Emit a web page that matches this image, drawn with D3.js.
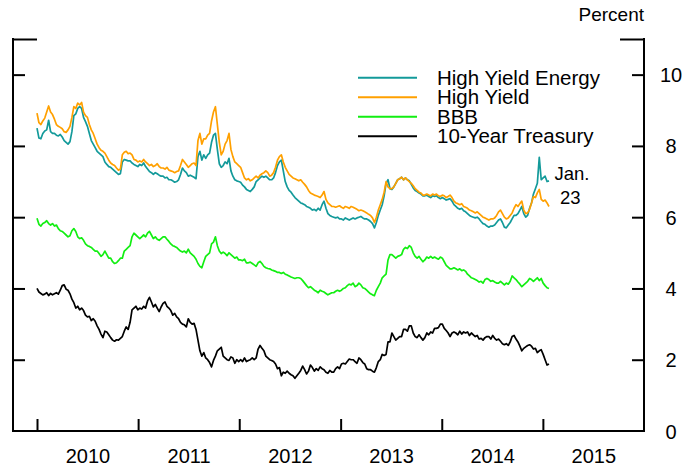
<!DOCTYPE html>
<html>
<head>
<meta charset="utf-8">
<script src="https://cdn.jsdelivr.net/npm/d3@7"></script>
<style>
  body { margin: 0; background: #fff; }
  text { font-family: "Liberation Sans", Arial, Helvetica, sans-serif; fill: #000; }
</style>
</head>
<body>
<svg id="chart" width="698" height="466"></svg>
<script>
// Weekly (Friday) observations, 1 Jan 2010 through 23 Jan 2015, percent.
const firstObservation = "2010-01-01";
const lastLabel = ["Jan.", "23"];

const highYieldEnergy = [
  // 2010
  8.50,8.22,8.20,8.35,8.42, 8.45,8.72,8.40,8.35, 8.35,8.30,8.28,8.32, 8.25,8.15,8.10,8.05,8.12,
  8.40,8.85,8.90,9.05, 9.10,9.05,8.80,8.68, 8.55,8.35,8.15,8.05,7.95, 7.85,7.80,7.75,7.70,
  7.55,7.48,7.42,7.40, 7.35,7.30,7.25,7.20,7.22, 7.55,7.62,7.60,7.58, 7.58,7.52,7.48,7.45,7.42,
  // 2011
  7.48,7.45,7.52,7.42, 7.35,7.28,7.25,7.20, 7.25,7.22,7.18,7.15, 7.15,7.10,7.12,7.05,7.05,
  7.02,6.98,7.00,7.05, 7.20,7.38,7.30,7.25, 7.15,7.18,7.15,7.12,7.08, 7.70,7.85,7.60,7.75,
  7.65,7.75,7.80,8.10,8.30, 8.35,7.90,7.50,7.40, 7.45,7.55,7.50,7.65, 7.30,7.15,7.05,7.02,7.00,
  // 2012
  6.98,6.90,6.85,6.78, 6.75,6.72,6.78,6.85, 7.00,7.05,7.10,7.15,7.12, 7.15,7.10,7.05,7.05,
  7.10,7.25,7.45,7.55, 7.60,7.30,7.00,6.85,6.75, 6.70,6.62,6.55,6.50, 6.45,6.40,6.38,6.35,6.30,
  6.28,6.25,6.20,6.22, 6.18,6.25,6.20,6.35, 6.45,6.25,6.10,6.05,6.02, 6.00,5.98,6.00,5.95,
  // 2013
  5.95,5.92,5.98,5.95, 5.92,5.95,5.98,5.95, 5.98,6.00,6.02,5.98,5.95, 5.95,5.92,5.88,5.82,
  5.70,5.85,6.05,6.20,6.35, 6.60,6.95,7.05,6.80, 6.78,6.85,6.95,7.05, 7.08,7.12,7.05,7.10,7.05,
  7.02,6.92,6.82,6.75, 6.72,6.68,6.65,6.60, 6.60,6.62,6.58,6.55,6.60, 6.58,6.60,6.55,6.52,
  // 2014
  6.55,6.52,6.48,6.50,6.52, 6.45,6.35,6.30,6.25, 6.22,6.25,6.18,6.15, 6.10,6.05,6.02,6.00,
  5.98,6.00,5.95,5.88,5.82, 5.80,5.75,5.72,5.75, 5.75,5.78,5.85,5.92, 5.95,5.85,5.72,5.70,5.78,
  5.85,5.95,6.05,6.05, 6.10,6.20,6.30,6.10,6.00, 6.05,6.25,6.40,6.65, 6.80,6.95,7.68,7.05,
  // 2015
  7.10,7.15,7.00,7.02
];

const highYield = [
  // 2010
  8.92,8.65,8.60,8.70,8.78, 8.95,9.12,8.95,8.88, 8.75,8.60,8.55,8.52, 8.48,8.40,8.38,8.45,8.55,
  8.80,9.10,9.05,9.20, 9.15,9.22,8.95,8.85, 8.80,8.60,8.45,8.35,8.20, 8.05,7.95,7.88,7.85,
  7.80,7.70,7.60,7.52, 7.48,7.45,7.38,7.32,7.35, 7.75,7.82,7.85,7.78, 7.80,7.75,7.62,7.60,7.55,
  // 2011
  7.58,7.55,7.62,7.55, 7.50,7.45,7.48,7.42, 7.45,7.50,7.42,7.38, 7.38,7.35,7.40,7.32,7.30,
  7.28,7.25,7.28,7.30, 7.45,7.62,7.55,7.48, 7.40,7.45,7.50,7.52,7.45, 8.15,8.35,8.05,8.20,
  8.20,8.30,8.35,8.70,8.95, 9.10,8.60,8.10,7.75, 7.85,8.05,8.15,8.35, 7.90,7.70,7.55,7.50,7.45,
  // 2012
  7.40,7.25,7.10,7.05, 7.08,7.02,7.05,7.10, 7.15,7.10,7.18,7.22,7.25, 7.30,7.25,7.15,7.18,
  7.25,7.40,7.60,7.70, 7.75,7.55,7.40,7.30,7.20, 7.15,7.10,7.08,7.05, 7.02,7.05,6.98,6.92,6.85,
  6.75,6.68,6.65,6.62, 6.60,6.58,6.55,6.62, 6.72,6.50,6.40,6.35,6.30, 6.30,6.28,6.30,6.32,
  // 2013
  6.28,6.25,6.30,6.28, 6.25,6.30,6.28,6.25, 6.22,6.18,6.20,6.18,6.15, 6.12,6.08,6.05,5.98,
  5.85,6.00,6.20,6.35,6.50, 6.70,7.00,6.85,6.80, 6.80,6.85,6.95,7.05, 7.08,7.12,7.05,7.10,7.05,
  7.00,6.95,6.88,6.80, 6.75,6.70,6.68,6.62, 6.62,6.65,6.62,6.60,6.65, 6.62,6.65,6.60,6.58,
  // 2014
  6.62,6.60,6.55,6.58,6.62, 6.55,6.45,6.40,6.38, 6.35,6.38,6.30,6.28, 6.25,6.20,6.18,6.15,
  6.12,6.15,6.10,6.05,6.00, 5.98,5.95,5.92,5.95, 5.95,5.98,6.05,6.15, 6.20,6.10,6.00,5.95,5.98,
  6.05,6.12,6.25,6.35, 6.30,6.38,6.45,6.20,6.10, 6.12,6.22,6.40,6.58, 6.55,6.68,6.78,6.50,
  // 2015
  6.45,6.48,6.40,6.30
];

const bbb = [
  // 2010
  5.97,5.80,5.75,5.82,5.85, 5.90,5.82,5.78,5.82, 5.75,5.78,5.68,5.62, 5.60,5.55,5.50,5.45,5.48,
  5.62,5.68,5.60,5.45, 5.40,5.42,5.35,5.25, 5.20,5.18,5.15,5.10,5.05, 5.05,4.98,4.90,4.95,
  5.05,4.95,4.85,4.85, 4.75,4.70,4.72,4.78,4.85, 4.85,5.05,5.10,5.15, 5.20,5.45,5.55,5.50,5.45,
  // 2011
  5.40,5.45,5.50,5.45, 5.55,5.60,5.50,5.40, 5.45,5.38,5.35,5.40, 5.45,5.45,5.38,5.32,5.25,
  5.20,5.18,5.15,5.10, 5.05,5.02,5.05,5.00, 5.10,5.00,4.95,4.90,4.82, 4.70,4.62,4.58,4.75,
  4.90,4.95,5.00,5.25,5.30, 5.45,5.20,5.05,4.98, 5.02,4.98,4.92,5.00, 4.95,4.90,4.85,4.88,4.80,
  // 2012
  4.80,4.78,4.82,4.72, 4.72,4.74,4.70,4.66, 4.62,4.72,4.76,4.70,4.62, 4.58,4.56,4.55,4.52,
  4.50,4.48,4.45,4.45, 4.42,4.45,4.40,4.38,4.35, 4.32,4.30,4.28,4.30, 4.30,4.28,4.22,4.15,4.08,
  4.02,4.05,4.00,3.95, 3.92,3.88,3.95,3.92, 3.90,3.86,3.82,3.85,3.88, 3.88,3.92,3.95,3.92,
  // 2013
  3.95,4.00,4.02,4.08, 4.12,4.10,4.15,4.05, 4.08,4.15,4.10,4.02,4.00, 3.95,3.90,3.85,3.82,
  3.80,3.95,4.05,4.15,4.30, 4.35,4.40,4.80,4.95, 4.95,4.90,4.85,4.90, 4.92,4.95,5.10,5.15,5.12,
  5.20,5.15,5.00,4.90, 4.85,4.90,4.82,4.75, 4.80,4.88,4.85,4.90,4.85, 4.88,4.85,4.82,4.88,
  // 2014
  4.85,4.75,4.65,4.60,4.55, 4.55,4.58,4.55,4.52, 4.55,4.50,4.52,4.48, 4.40,4.35,4.30,4.28,
  4.25,4.22,4.18,4.20,4.15, 4.25,4.28,4.25,4.20, 4.22,4.18,4.15,4.15, 4.20,4.15,4.10,4.15,4.12,
  4.20,4.35,4.30,4.25, 4.18,4.12,4.05,4.10,4.15, 4.20,4.28,4.25,4.20, 4.25,4.30,4.22,4.28,
  // 2015
  4.15,4.08,4.02,4.00
];

const treasury10y = [
  // 2010
  4.00,3.90,3.86,3.82,3.84, 3.88,3.80,3.86,3.82, 3.85,3.88,3.84,3.95, 4.08,4.10,3.98,3.95,3.85,
  3.70,3.60,3.45,3.50, 3.40,3.45,3.38,3.25, 3.20,3.22,3.10,3.15,3.08, 2.95,2.85,2.72,2.62,
  2.80,2.78,2.70,2.62, 2.55,2.52,2.56,2.55,2.60, 2.65,2.80,2.92,2.85, 3.05,3.40,3.45,3.50,3.40,
  // 2011
  3.45,3.42,3.50,3.45, 3.65,3.75,3.62,3.48, 3.55,3.45,3.35,3.48, 3.58,3.62,3.50,3.45,3.38,
  3.25,3.30,3.20,3.15, 3.05,3.00,2.98,2.92, 3.15,3.05,3.00,3.02,2.85, 2.55,2.25,2.10,2.20,
  2.05,2.00,1.92,1.80,1.98, 2.10,2.25,2.30,2.35, 2.10,2.05,2.00,1.98, 2.08,2.05,1.90,2.00,1.95,
  // 2012
  2.00,1.95,2.05,1.95, 1.98,2.00,2.05,2.00, 2.05,2.30,2.40,2.32,2.25, 2.10,2.05,2.00,1.98,
  1.95,1.88,1.75,1.78, 1.55,1.65,1.62,1.68,1.62, 1.58,1.55,1.48,1.55, 1.62,1.70,1.82,1.72,1.60,
  1.68,1.85,1.78,1.68, 1.75,1.70,1.80,1.75, 1.72,1.65,1.62,1.70,1.65, 1.65,1.75,1.80,1.75,
  // 2013
  1.88,1.90,1.88,1.95, 2.02,2.00,2.00,1.95, 1.90,2.05,2.00,1.92,1.88, 1.75,1.72,1.72,1.68,
  1.65,1.78,1.95,2.00,2.15, 2.12,2.15,2.50,2.50, 2.75,2.65,2.55,2.60, 2.65,2.65,2.85,2.85,2.80,
  2.95,2.95,2.75,2.65, 2.62,2.70,2.62,2.55, 2.62,2.75,2.70,2.78,2.75, 2.88,2.88,2.90,3.00,
  // 2014
  3.00,2.88,2.82,2.75,2.65, 2.75,2.78,2.75,2.70, 2.80,2.72,2.78,2.75, 2.78,2.68,2.75,2.70,
  2.65,2.68,2.58,2.60,2.55, 2.62,2.65,2.65,2.58, 2.68,2.60,2.55,2.58, 2.52,2.45,2.42,2.45,2.40,
  2.50,2.65,2.68,2.58, 2.50,2.38,2.25,2.32,2.36, 2.40,2.42,2.38,2.30, 2.32,2.20,2.25,2.28,
  // 2015
  2.15,2.00,1.85,1.88
];

const seriesNames  = ["High Yield Energy", "High Yield", "BBB", "10-Year Treasury"];
const seriesColors = ["#139a9a", "#ffa000", "#12ee12", "#000000"];
const yearLabels   = ["2010", "2011", "2012", "2013", "2014", "2015"];
const yTickValues  = [0, 2, 4, 6, 8, 10];
const yMax = 11;

// ---- layout ----
const W = 698, H = 466;
const plot = { left: 13, right: 644, top: 39, bottom: 431 };
const svg = d3.select("#chart");

const t0 = d3.utcParse("%Y-%m-%d")(firstObservation);
const dates = highYield.map((_, i) => d3.utcDay.offset(t0, 7 * i));

const x = d3.scaleUtc()
  .domain([new Date(Date.UTC(2010, 0, 1)), new Date(Date.UTC(2016, 0, 1))])
  .range([37, plot.right]);
const y = d3.scaleLinear().domain([0, yMax]).range([plot.bottom, plot.top]);

const seriesData = [highYieldEnergy, highYield, bbb, treasury10y];

// ---- frame (left, bottom, right) ----
svg.append("path")
  .attr("d", `M${plot.left},${plot.top}V${plot.bottom}H${plot.right}V${plot.top}`)
  .attr("fill", "none").attr("stroke", "#000").attr("stroke-width", 2)
  .attr("stroke-linecap", "square");

function styleAxis(g) {
  g.select(".domain").remove();
  g.selectAll(".tick line").attr("stroke", "#000").attr("stroke-width", 2);
}

const inner = yTickValues.filter(v => v > 0);

// left axis: inward ticks, no labels
svg.append("g").attr("transform", `translate(${plot.left},0)`)
  .call(d3.axisRight(y).tickValues(inner).tickSize(12).tickFormat(""))
  .call(styleAxis);
svg.append("g").attr("transform", `translate(${plot.left},0)`)
  .call(d3.axisRight(y).tickValues([yMax]).tickSize(24).tickFormat(""))
  .call(styleAxis);

// right axis: inward ticks plus labels outside
svg.append("g").attr("transform", `translate(${plot.right},0)`)
  .call(d3.axisLeft(y).tickValues(inner).tickSize(12).tickFormat(""))
  .call(styleAxis);
svg.append("g").attr("transform", `translate(${plot.right},0)`)
  .call(d3.axisLeft(y).tickValues([yMax]).tickSize(24).tickFormat(""))
  .call(styleAxis);
const rightLabels = svg.append("g").attr("transform", `translate(${plot.right},0)`)
  .call(d3.axisRight(y).tickValues(yTickValues).tickSize(0).tickPadding(27).tickFormat(d3.format("d")))
  .call(styleAxis);
rightLabels.selectAll(".tick text")
  .attr("text-anchor", "middle").attr("dy", "0.35em")
  .style("font-size", "20px").attr("font-family", null);

// bottom axis: year-start ticks pointing up, labels centred in each year
const yearStarts = yearLabels.map(s => new Date(Date.UTC(+s, 0, 1)));
const yearMids = yearLabels.map(s => new Date(Date.UTC(+s, 6, 2)));
svg.append("g").attr("transform", `translate(0,${plot.bottom})`)
  .call(d3.axisTop(x).tickValues(yearStarts).tickSize(12).tickFormat(""))
  .call(styleAxis);
const bottomLabels = svg.append("g").attr("transform", `translate(0,${plot.bottom})`)
  .call(d3.axisBottom(x).tickValues(yearMids).tickSize(0).tickFormat((d, i) => yearLabels[i]))
  .call(styleAxis);
bottomLabels.selectAll(".tick text")
  .attr("y", 31.5).attr("dy", null)
  .style("font-size", "20px").attr("font-family", null);

// unit label
svg.append("text").attr("x", plot.right).attr("y", 20.5)
  .attr("text-anchor", "end").style("font-size", "19px").text("Percent");

// ---- series ----
const line = d3.line().x((d, i) => x(dates[i])).y(d => y(d)).curve(d3.curveLinear);
const drawOrder = [3, 2, 0, 1];
drawOrder.forEach(k => {
  svg.append("path")
    .datum(seriesData[k])
    .attr("d", line)
    .attr("fill", "none")
    .attr("stroke", seriesColors[k])
    .attr("stroke-width", 1.7)
    .attr("stroke-linejoin", "round");
});

// ---- legend ----
const legend = svg.append("g");
seriesNames.forEach((name, i) => {
  const ly = 77.7 + i * 19.55;
  legend.append("line")
    .attr("x1", 358).attr("x2", 417).attr("y1", ly).attr("y2", ly)
    .attr("stroke", seriesColors[i]).attr("stroke-width", 2);
  legend.append("text")
    .attr("x", 437).attr("y", ly + 7)
    .style("font-size", "20.5px").text(name);
});

// ---- end-date note ----
const lastIdx = dates.length - 1;
const ex = x(dates[lastIdx]);
const ey = y(highYieldEnergy[lastIdx]);
svg.append("text").attr("x", ex + 5.5).attr("y", ey - 1)
  .style("font-size", "18.5px").text(lastLabel[0]);
svg.append("text").attr("x", ex + 11).attr("y", ey + 23)
  .style("font-size", "18.5px").text(lastLabel[1]);
</script>
</body>
</html>
